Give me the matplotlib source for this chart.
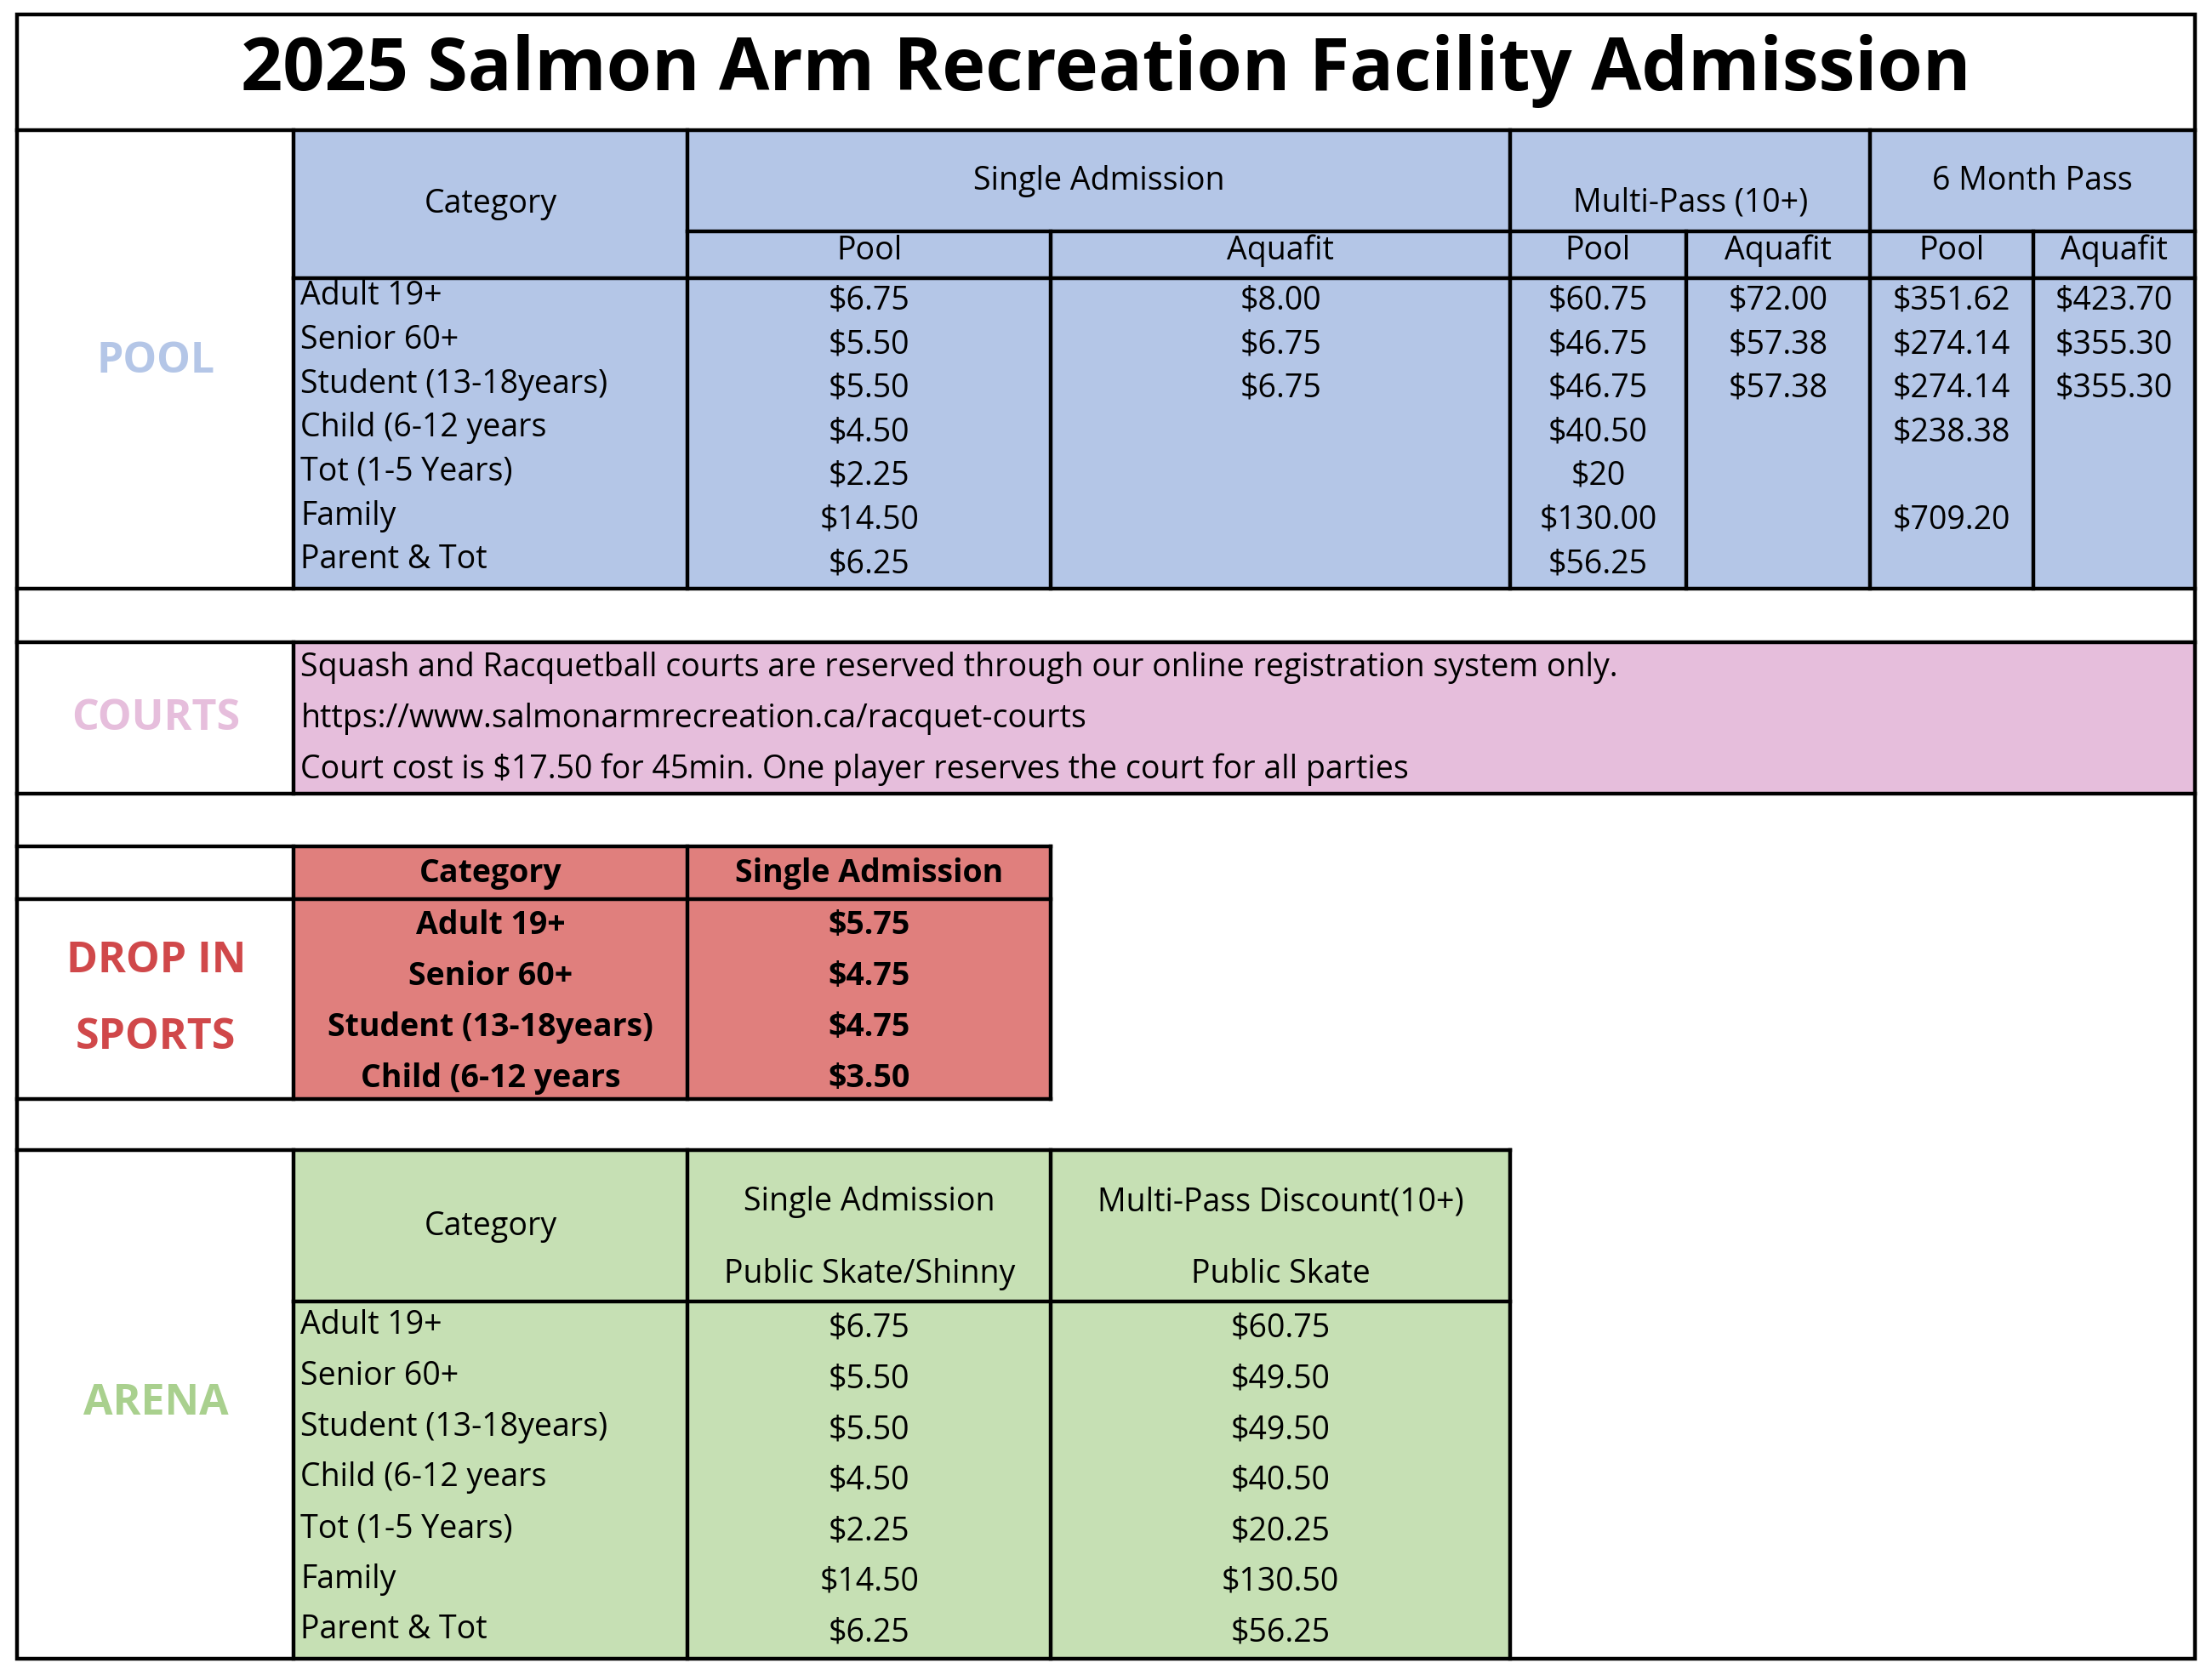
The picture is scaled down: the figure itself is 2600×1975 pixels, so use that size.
import matplotlib.pyplot as plt

plt.rcParams["font.family"] = "Open Sans"

title = "2025 Salmon Arm Recreation Facility Admission"
pool_categories = ["Adult 19+", "Senior 60+", "Student (13-18years)", "Child (6-12 years",
                   "Tot (1-5 Years)", "Family", "Parent & Tot"]
pool_single_pool = ["$6.75", "$5.50", "$5.50", "$4.50", "$2.25", "$14.50", "$6.25"]
pool_single_aqua = ["$8.00", "$6.75", "$6.75", "", "", "", ""]
pool_multi_pool = ["$60.75", "$46.75", "$46.75", "$40.50", "$20", "$130.00", "$56.25"]
pool_multi_aqua = ["$72.00", "$57.38", "$57.38", "", "", "", ""]
pool_6m_pool = ["$351.62", "$274.14", "$274.14", "$238.38", "", "$709.20", ""]
pool_6m_aqua = ["$423.70", "$355.30", "$355.30", "", "", "", ""]
courts_lines = ["Squash and Racquetball courts are reserved through our online registration system only.",
                "https://www.salmonarmrecreation.ca/racquet-courts",
                "Court cost is $17.50 for 45min. One player reserves the court for all parties"]
drop_categories = ["Adult 19+", "Senior 60+", "Student (13-18years)", "Child (6-12 years"]
drop_single = ["$5.75", "$4.75", "$4.75", "$3.50"]
arena_categories = pool_categories
arena_single = ["$6.75", "$5.50", "$5.50", "$4.50", "$2.25", "$14.50", "$6.25"]
arena_multi = ["$60.75", "$49.50", "$49.50", "$40.50", "$20.25", "$130.50", "$56.25"]

BLUE, PINK, RED, GREEN = "#B4C6E7", "#E6BEDC", "#E07F7D", "#C6E0B4"
FS = 27
SEC = 36
LW = 3.2

fig = plt.figure(figsize=(26, 19.75), dpi=100)
ax = fig.add_axes([0, 0, 1, 1])
ax.set_xlim(0, 1560)
ax.set_ylim(1185, 0)
ax.axis("off")


def box(x0, x1, y0, y1, fill="none"):
    ax.add_patch(plt.Rectangle((x0, y0), x1 - x0, y1 - y0, facecolor=fill,
                               edgecolor="black", lw=LW, zorder=1))


def hline(y, x0, x1):
    ax.plot([x0, x1], [y, y], color="black", lw=LW, zorder=2)


def vline(x, y0, y1):
    ax.plot([x, x], [y0, y1], color="black", lw=LW, zorder=2)


def txt(x, y, s, ha="center", **kw):
    ax.text(x, y, s, ha=ha, va="center", fontsize=kw.pop("fs", FS), **kw)


# outer frame and title
box(12, 1548, 10, 1170)
hline(92, 12, 1548)
txt(780, 50, title, fs=62, fontweight="bold")

# POOL
cols = [207, 485, 741, 1065, 1189, 1319, 1434, 1548]
ax.add_patch(plt.Rectangle((207, 92), 1341, 323, facecolor=BLUE, zorder=0))
hline(415, 12, 1548)
vline(207, 92, 415)
for x in cols[1:-1]:
    top = 92 if x in (485, 1065, 1319) else 163
    vline(x, top, 415)
hline(163, 485, 1548)
hline(196, 207, 1548)
txt(110, 255, "POOL", color=BLUE, fs=SEC, fontweight="bold")
txt(346, 144, "Category")
txt(775, 128, "Single Admission")
txt(1192, 143, "Multi-Pass (10+)")
txt(1433, 128, "6 Month Pass")
for i, s in enumerate(["Pool", "Aquafit", "Pool", "Aquafit", "Pool", "Aquafit"]):
    txt((cols[i + 1] + cols[i + 2]) / 2, 177, s)
row_y = [212 + 31 * i for i in range(7)]
series = [pool_single_pool, pool_single_aqua, pool_multi_pool,
          pool_multi_aqua, pool_6m_pool, pool_6m_aqua]
for i, y in enumerate(row_y):
    txt(212, y - 3, pool_categories[i], ha="left")
    for j, ser in enumerate(series):
        txt((cols[j + 1] + cols[j + 2]) / 2, y, ser[i])

# COURTS
hline(453, 12, 1548)
hline(560, 12, 1548)
ax.add_patch(plt.Rectangle((207, 453), 1341, 107, facecolor=PINK, zorder=0))
vline(207, 453, 560)
txt(110, 507, "COURTS", color=PINK, fs=SEC, fontweight="bold")
for i, s in enumerate(courts_lines):
    txt(212, 471 + 36 * i, s, ha="left")

# DROP IN SPORTS
ax.add_patch(plt.Rectangle((207, 597), 534, 178, facecolor=RED, zorder=0))
hline(597, 12, 741)
hline(634, 12, 741)
hline(775, 12, 741)
vline(207, 597, 775)
vline(485, 597, 775)
vline(741, 597, 775)
txt(110, 678, "DROP IN", color="#D0484A", fs=SEC, fontweight="bold")
txt(110, 732, "SPORTS", color="#D0484A", fs=SEC, fontweight="bold")
txt(346, 616, "Category", fontweight="bold")
txt(613, 616, "Single Admission", fontweight="bold")
for i, (c, v) in enumerate(zip(drop_categories, drop_single)):
    y = 653 + 36 * i
    txt(346, y, c, fontweight="bold")
    txt(613, y, v, fontweight="bold")

# ARENA
ax.add_patch(plt.Rectangle((207, 811), 858, 359, facecolor=GREEN, zorder=0))
hline(811, 12, 1065)
hline(918, 207, 1065)
for x in (207, 485, 741, 1065):
    vline(x, 811, 1170)
txt(110, 990, "ARENA", color="#A9D08E", fs=SEC, fontweight="bold")
txt(346, 865, "Category")
txt(613, 848, "Single Admission")
txt(613, 899, "Public Skate/Shinny")
txt(903, 848, "Multi-Pass Discount(10+)")
txt(903, 899, "Public Skate")
for i, c in enumerate(arena_categories):
    y = 937 + 35.8 * i
    txt(212, y - 2, c, ha="left")
    txt(613, y, arena_single[i])
    txt(903, y, arena_multi[i])

fig.savefig("out.png", dpi=100, facecolor="white")
